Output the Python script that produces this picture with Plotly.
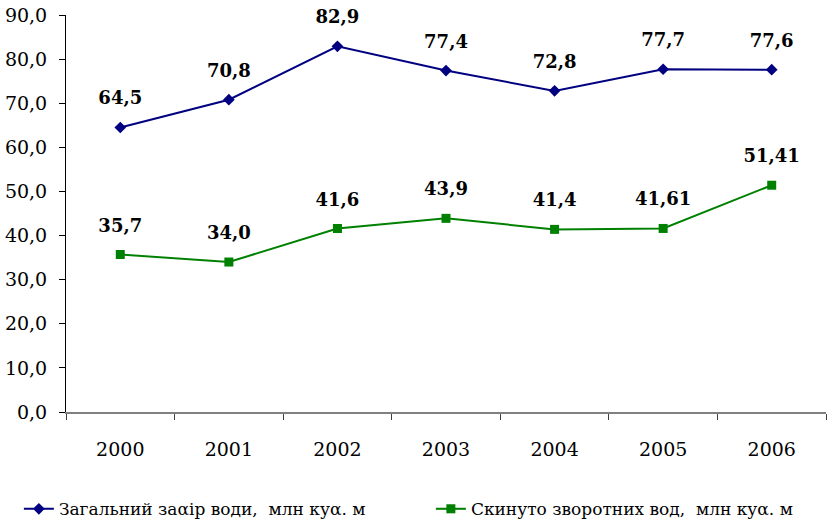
import plotly.graph_objects as go

years = ["2000", "2001", "2002", "2003", "2004", "2005", "2006"]
total_intake = [64.5, 70.8, 82.9, 77.4, 72.8, 77.7, 77.6]
total_labels = ["64,5", "70,8", "82,9", "77,4", "72,8", "77,7", "77,6"]
discharged = [35.7, 34.0, 41.6, 43.9, 41.4, 41.61, 51.41]
discharged_labels = ["35,7", "34,0", "41,6", "43,9", "41,4", "41,61", "51,41"]
y_ticks = [0, 10, 20, 30, 40, 50, 60, 70, 80, 90]
y_tick_labels = ["0,0", "10,0", "20,0", "30,0", "40,0", "50,0", "60,0", "70,0", "80,0", "90,0"]

FONT = "DejaVu Serif"

fig = go.Figure()
fig.add_trace(go.Scatter(
    x=years, y=total_intake, mode="lines+markers",
    name="Загальний заαір води,  млн куα. м",
    line=dict(color="#000080", width=2),
    marker=dict(symbol="diamond", size=9, color="#000080"),
))
fig.add_trace(go.Scatter(
    x=years, y=discharged, mode="lines+markers",
    name="Скинуто зворотних вод,  млн куα. м",
    line=dict(color="#008000", width=2),
    marker=dict(symbol="square", size=9, color="#008000"),
))
for ys, ls in [(total_intake, total_labels), (discharged, discharged_labels)]:
    fig.add_trace(go.Scatter(
        x=years, y=ys, mode="markers+text", text=["<b>" + l + "</b>" for l in ls],
        textposition="top center", showlegend=False, hoverinfo="skip",
        marker=dict(size=28, color="rgba(0,0,0,0)"), cliponaxis=False,
        textfont=dict(family=FONT, size=18, color="black"),
    ))

fig.update_layout(
    width=831, height=522,
    margin=dict(l=66, r=5, t=15, b=110, autoexpand=False),
    paper_bgcolor="white", plot_bgcolor="white",
    font=dict(family=FONT, size=18, color="black"),
    showlegend=True,
    legend=dict(orientation="h", x=-0.062, xanchor="left", y=-0.245, yanchor="middle",
                font=dict(family=FONT, size=17, color="black"),
                entrywidth=367, entrywidthmode="pixels",
                bgcolor="rgba(0,0,0,0)"),
)
fig.update_xaxes(
    type="category", range=[-0.5, 6.5], showgrid=False, automargin=False,
    showline=True, linecolor="#808080", linewidth=2,
    ticks="outside", tickson="boundaries", ticklen=6, tickcolor="#404040",
    ticklabelstandoff=19, tickfont=dict(family=FONT, size=19),
)
fig.update_yaxes(
    range=[0, 90], tickvals=y_ticks, ticktext=y_tick_labels, showgrid=False,
    zeroline=False, showline=True, linecolor="black", linewidth=1, automargin=False,
    ticks="outside", ticklen=6, tickcolor="black",
    tickfont=dict(family=FONT, size=19), ticklabelstandoff=8,
)

fig.write_html("out.html", config={"displayModeBar": False},
               post_script="document.body.style.margin='0';")
